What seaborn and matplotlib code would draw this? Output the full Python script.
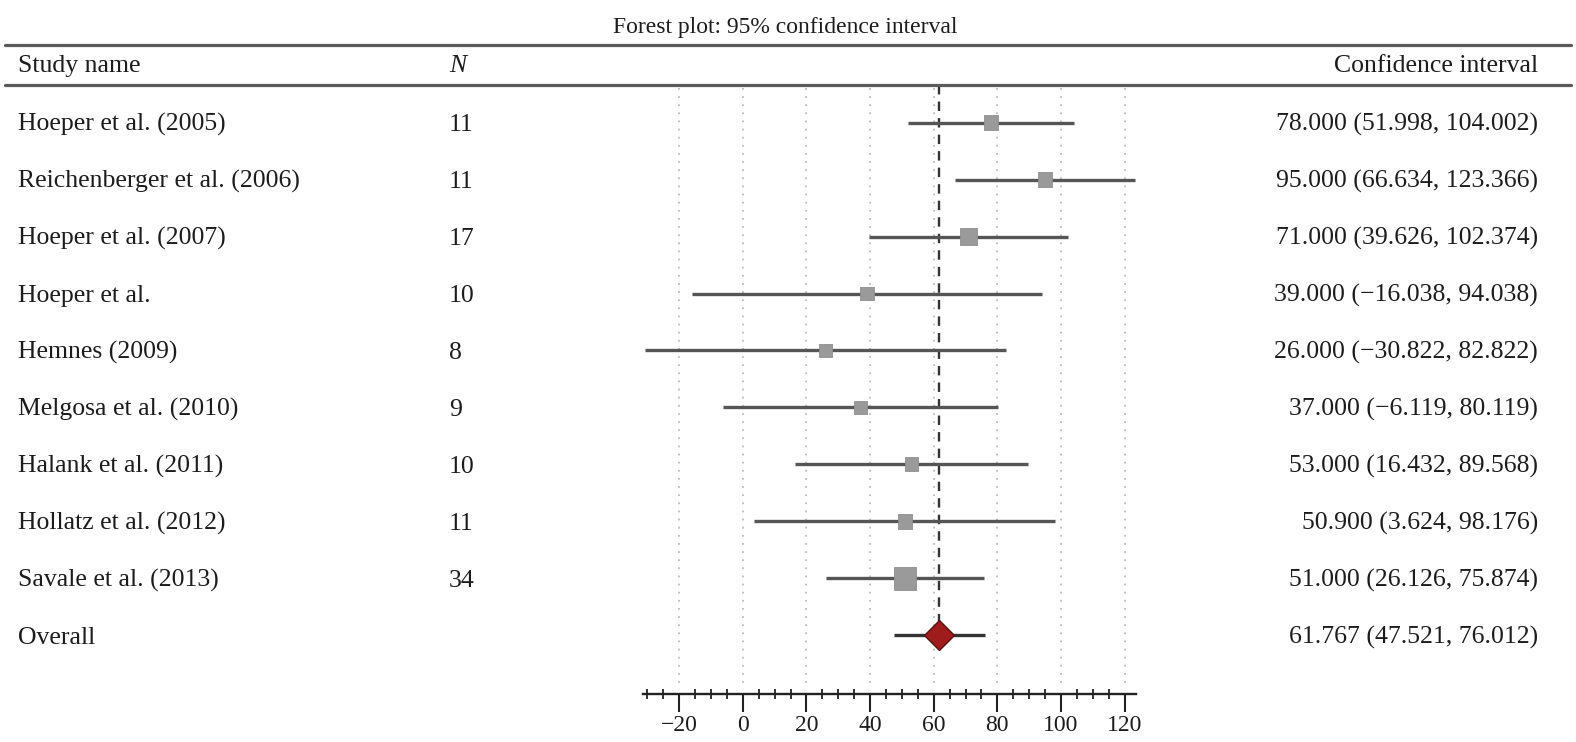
import matplotlib
matplotlib.use("Agg")
import matplotlib.pyplot as plt
import matplotlib.ticker as mticker
import matplotlib.transforms as mtrans
from matplotlib.lines import Line2D
import seaborn as sns
import pandas as pd

OUTPUT_FILE = "out.png"

studies = ["Hoeper et al. (2005)", "Reichenberger et al. (2006)", "Hoeper et al. (2007)",
           "Hoeper et al.", "Hemnes (2009)", "Melgosa et al. (2010)", "Halank et al. (2011)",
           "Hollatz et al. (2012)", "Savale et al. (2013)"]
n_values = [11, 11, 17, 10, 8, 9, 10, 11, 34]
estimates = [78.000, 95.000, 71.000, 39.000, 26.000, 37.000, 53.000, 50.900, 51.000]
lower = [51.998, 66.634, 39.626, -16.038, -30.822, -6.119, 16.432, 3.624, 26.126]
upper = [104.002, 123.366, 102.374, 94.038, 82.822, 80.119, 89.568, 98.176, 75.874]

overall_label = "Overall"
overall_est = 61.767
overall_lo = 47.521
overall_hi = 76.012

x_ticks = [-20, 0, 20, 40, 60, 80, 100, 120]


def fmt(v):
    return f"{v:.3f}".replace("-", "\u2212")


def ci_text(est, lo, hi):
    return f"{fmt(est)} ({fmt(lo)}, {fmt(hi)})"


df = pd.DataFrame({"study": studies, "N": n_values, "est": estimates,
                   "lo": lower, "hi": upper})
df["row"] = range(len(df))
overall_row = len(df)

sns.set_style("white")
plt.rcParams["font.family"] = ["Liberation Serif", "DejaVu Serif"]
plt.rcParams["font.size"] = 18.5
TXT = "#1c1c1c"

W, H = 1576, 742
fig = plt.figure(figsize=(W / 100, H / 100), dpi=100)

# forest axes: spans from header rule down to the x axis
ax = fig.add_axes([643 / W, 1 - 694 / H, (1136 - 643) / W, (694 - 85) / H])
ax.set_xlim(-31.4, 123.6)
ax.set_ylim(10.03, -0.66)

# dotted grid
ax.vlines(x_ticks, -0.6, 9.85, colors="#bdbdbd", linestyles=(0, (1, 3.5)), linewidth=1.3, zorder=0)
# dashed line at overall estimate
ax.vlines(overall_est, -0.66, overall_row, colors="#333333", linestyles=(0, (4, 3)),
          linewidth=1.7, zorder=1)

# CIs
ax.hlines(df["row"], df["lo"], df["hi"], colors="#555555", linewidth=2.4, zorder=2)
ax.hlines(overall_row, overall_lo, overall_hi, colors="#333333", linewidth=2.4, zorder=2)

# study squares sized by N
sns.scatterplot(data=df, x="est", y="row", size="N", sizes=(85, 270), marker="s",
                color="#9a9a9a", edgecolor="#8e8e8e", linewidth=0.6, legend=False,
                ax=ax, zorder=3)
ax.plot([overall_est], [overall_row], marker="D", markersize=15, color="#9e1c1c",
        markeredgecolor="#5a1010", markeredgewidth=1, zorder=4)

ax.set_xlabel("")
ax.set_ylabel("")
ax.set_yticks([])
for s in ["left", "right", "top"]:
    ax.spines[s].set_visible(False)
ax.spines["bottom"].set_color("#222222")
ax.spines["bottom"].set_linewidth(1.7)
ax.xaxis.set_major_locator(mticker.FixedLocator(x_ticks))
ax.xaxis.set_minor_locator(mticker.MultipleLocator(5))
ax.xaxis.set_major_formatter(mticker.FuncFormatter(lambda v, p: f"{int(v)}".replace("-", "\u2212")))
ax.tick_params(axis="x", which="major", direction="out", length=13, width=1.5,
               color="#222222", pad=2, labelsize=17, labelcolor=TXT, bottom=True)
ax.tick_params(axis="x", which="minor", direction="inout", length=7, width=1.3,
               color="#222222", bottom=True)

# text columns
name_x = 18 / W
n_x = 449 / W
ci_x = 1538 / W
blend = mtrans.blended_transform_factory(fig.transFigure, ax.transData)
for _, r in df.iterrows():
    fig.text(name_x, r["row"] + 0.04, r["study"], transform=blend, va="center", ha="left", color=TXT)
    fig.text(n_x, r["row"] + 0.04, str(r["N"]), transform=blend, va="center", ha="left", color=TXT)
    fig.text(ci_x, r["row"] + 0.04, ci_text(r["est"], r["lo"], r["hi"]), transform=blend,
             va="center", ha="right", color=TXT)
fig.text(name_x, overall_row + 0.04, overall_label, transform=blend, va="center", ha="left", color=TXT)
fig.text(ci_x, overall_row + 0.04, ci_text(overall_est, overall_lo, overall_hi), transform=blend,
         va="center", ha="right", color=TXT)

# header
fig.text(785 / W, 1 - 27 / H, "Forest plot: 95% confidence interval", ha="center", va="center",
         color=TXT, fontsize=17)
fig.text(name_x, 1 - 66 / H, "Study name", ha="left", va="center", color=TXT)
fig.text(n_x, 1 - 66 / H, "N", ha="left", va="center", color=TXT, style="italic")
fig.text(ci_x, 1 - 66 / H, "Confidence interval", ha="right", va="center", color=TXT)
for yy in (45, 85):
    fig.add_artist(Line2D([5 / W, 1571 / W], [1 - yy / H, 1 - yy / H], color="#5a5a5a",
                          linewidth=2.3, transform=fig.transFigure))

fig.savefig(OUTPUT_FILE, dpi=100)
plt.close(fig)
print(f"Saved {OUTPUT_FILE}")
